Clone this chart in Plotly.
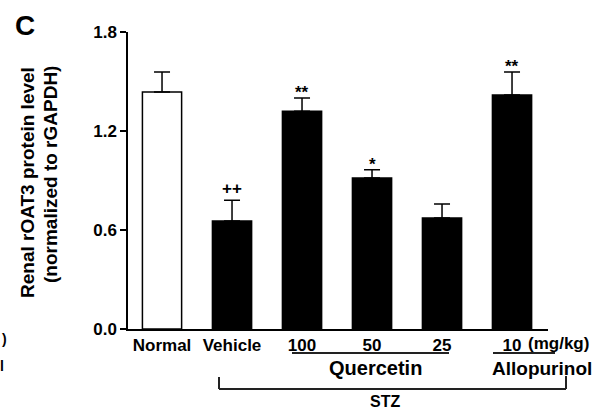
import plotly.graph_objects as go

# ---- data ----
categories = ["Normal", "Vehicle", "100", "50", "25", "10"]
values = [1.436, 0.655, 1.32, 0.915, 0.673, 1.418]
errors = [0.122, 0.125, 0.08, 0.05, 0.085, 0.14]
bar_colors = ["white", "black", "black", "black", "black", "black"]
sig_labels = ["", "++", "**", "*", "", "**"]
y_ticks = [0.0, 0.6, 1.2, 1.8]
y_ticktext = ["0.0", "0.6", "1.2", "1.8"]

W, H = 593, 412
ML, MR, MT, MB = 128, 45, 32, 83
PW, PH = W - ML - MR, H - MT - MB
FONT = "Liberation Sans, Arial, sans-serif"


def px(xp):
    return (xp - ML) / PW


def py(yp):
    return (H - MB - yp) / PH


fig = go.Figure()
fig.add_trace(go.Bar(
    x=categories, y=values,
    marker=dict(color=bar_colors, line=dict(color="black", width=1.5)),
    width=0.56,
    error_y=dict(type="data", symmetric=False, array=errors,
                 arrayminus=[0] * len(errors),
                 color="black", thickness=1.5, width=8),
    showlegend=False,
))

annotations = []
for i, (v, e, s) in enumerate(zip(values, errors, sig_labels)):
    if s:
        annotations.append(dict(
            x=i, y=v + e, xref="x", yref="y", text=s, showarrow=False,
            yanchor="bottom", yshift=(0 if s.startswith("+") else -6),
            font=dict(family=FONT, size=17, color="black", weight="bold")))

def txt(xp, yp, t, size, anchor="center", angle=0):
    annotations.append(dict(
        x=px(xp), y=py(yp), xref="paper", yref="paper", text=t,
        showarrow=False, xanchor=anchor, yanchor="middle", textangle=angle,
        font=dict(family=FONT, size=size, color="black", weight="bold")))

txt(25, 25, "C", 28)
txt(27, 183, "Renal rOAT3 protein level", 19, angle=-90)
txt(50, 175, "(normalized to rGAPDH)", 19, angle=-90)
txt(558, 343, "(mg/kg)", 17)
txt(375, 368, "Quercetin", 20)
txt(542, 368, "Allopurinol", 19)
txt(385, 401, "STZ", 16)
txt(4, 339, ")", 14)
txt(2, 366, "l", 14)

shapes = []

def line(x0, y0, x1, y1, w=2):
    shapes.append(dict(type="line", xref="paper", yref="paper",
                       x0=px(x0), y0=py(y0), x1=px(x1), y1=py(y1),
                       line=dict(color="#222", width=w)))

line(292, 353, 449, 353)
line(493, 353, 555, 353)
line(219, 389, 566, 389)
line(219, 377, 219, 389)
line(566, 376, 566, 389)

fig.update_layout(
    width=W, height=H,
    margin=dict(l=ML, r=MR, t=MT, b=MB),
    paper_bgcolor="white", plot_bgcolor="white",
    font=dict(family=FONT, size=16, color="black", weight="bold"),
    xaxis=dict(type="category", range=[-0.486, 5.514], showline=True,
               linecolor="black", linewidth=1.5, ticks="", showgrid=False,
               tickfont=dict(family=FONT, size=17, color="black", weight="bold")),
    yaxis=dict(range=[0, 1.8], tickvals=y_ticks, ticktext=y_ticktext,
               showline=True, linecolor="black", linewidth=1.5,
               ticks="outside", ticklen=6, tickwidth=1.5, tickcolor="black",
               showgrid=False, zeroline=False,
               tickfont=dict(family=FONT, size=17, color="black", weight="bold")),
    annotations=annotations,
    shapes=shapes,
)

fig.write_html(
    "out.html",
    config={"displayModeBar": False},
    post_script="document.body.style.margin='0';document.body.style.overflow='hidden';",
)
